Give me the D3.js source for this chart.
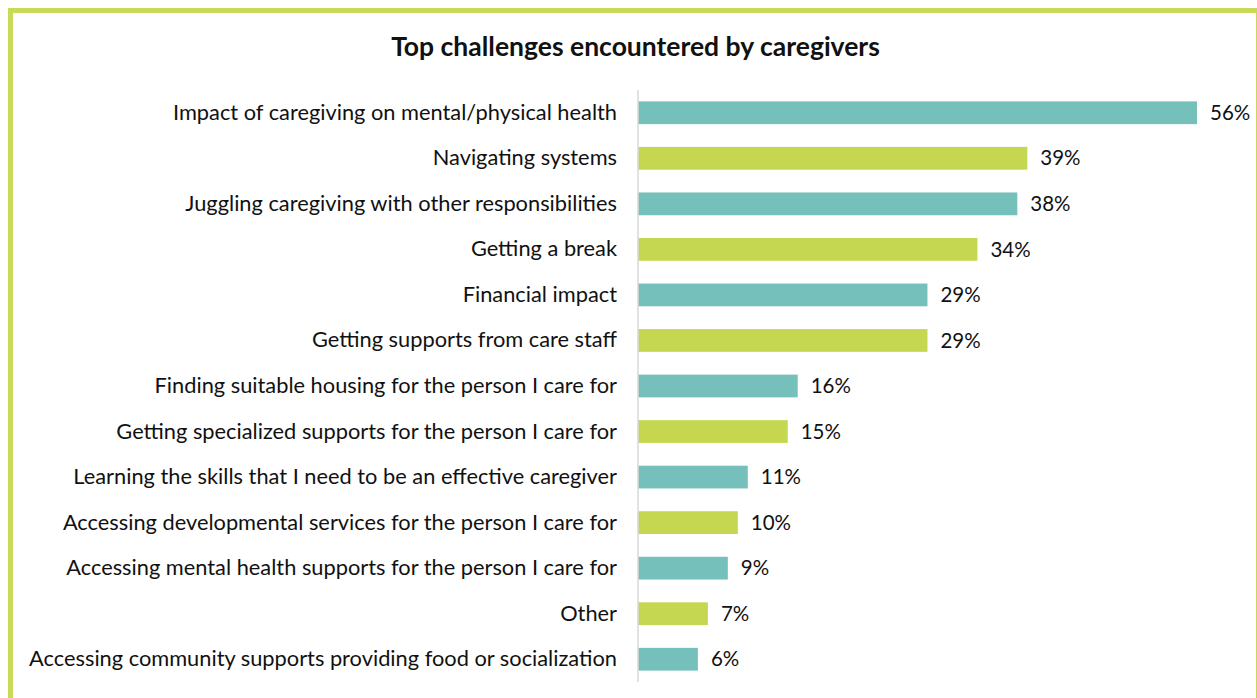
<!DOCTYPE html>
<html>
<head>
<meta charset="utf-8">
<script src="https://cdn.jsdelivr.net/npm/d3@7"></script>
<style>
  html, body { margin: 0; padding: 0; background: #fff; }
  svg { display: block; }
</style>
</head>
<body>
<svg id="chart" width="1257" height="698"></svg>
<script>
const categories = [
  "Impact of caregiving on mental/physical health",
  "Navigating systems",
  "Juggling caregiving with other responsibilities",
  "Getting a break",
  "Financial impact",
  "Getting supports from care staff",
  "Finding suitable housing for the person I care for",
  "Getting specialized supports for the person I care for",
  "Learning the skills that I need to be an effective caregiver",
  "Accessing developmental services for the person I care for",
  "Accessing mental health supports for the person I care for",
  "Other",
  "Accessing community supports providing food or socialization"
];
const values = [56, 39, 38, 34, 29, 29, 16, 15, 11, 10, 9, 7, 6];
const valueLabels = ["56%", "39%", "38%", "34%", "29%", "29%", "16%", "15%", "11%", "10%", "9%", "7%", "6%"];
const barColors = ["#76c0bb", "#c5d750"];
const titleText = "Top challenges encountered by caregivers";

const svg = d3.select("#chart");
const fontFamily = "Lato, 'Open Sans', sans-serif";

// Frame around the panel
svg.append("rect")
  .attr("x", 10.5).attr("y", 10.5)
  .attr("width", 1248).attr("height", 720)
  .attr("fill", "none")
  .attr("stroke", "#c8da58")
  .attr("stroke-width", 5);

// Title
svg.append("text")
  .attr("x", 635.5).attr("y", 56)
  .attr("text-anchor", "middle")
  .attr("font-family", fontFamily)
  .attr("font-weight", "bold")
  .attr("font-size", 26.5)
  .attr("fill", "#111")
  .text(titleText);

const x = d3.scaleLinear().domain([0, 56]).range([638, 1197]);
const y = d3.scaleBand()
  .domain(categories)
  .range([90, 682])
  .paddingInner(0.5)
  .paddingOuter(0.25);

const data = categories.map((c, i) => ({ c, v: values[i], label: valueLabels[i], i }));

// Bars
svg.append("g").selectAll("rect")
  .data(data)
  .join("rect")
  .attr("x", x(0))
  .attr("y", d => y(d.c))
  .attr("width", d => x(d.v) - x(0))
  .attr("height", y.bandwidth())
  .attr("fill", d => barColors[d.i % 2]);

// Category axis (line only, labels right-aligned)
const yAxis = svg.append("g")
  .attr("transform", `translate(${x(0)},0)`)
  .call(d3.axisLeft(y).tickSize(0).tickPadding(21));
yAxis.select(".domain")
  .attr("stroke", "#d9d9d9")
  .attr("stroke-width", 1.5)
  .attr("d", `M0,${y.range()[0]}V${y.range()[1]}`);
yAxis.selectAll("text")
  .attr("font-family", fontFamily)
  .attr("font-size", 21.8)
  .attr("fill", "#111");

// Value labels
svg.append("g").selectAll("text")
  .data(data)
  .join("text")
  .attr("x", d => x(d.v) + 13)
  .attr("y", d => y(d.c) + y.bandwidth() / 2)
  .attr("dy", "0.35em")
  .attr("font-family", fontFamily)
  .attr("font-size", 20.5)
  .attr("fill", "#111")
  .text(d => d.label);
</script>
</body>
</html>
